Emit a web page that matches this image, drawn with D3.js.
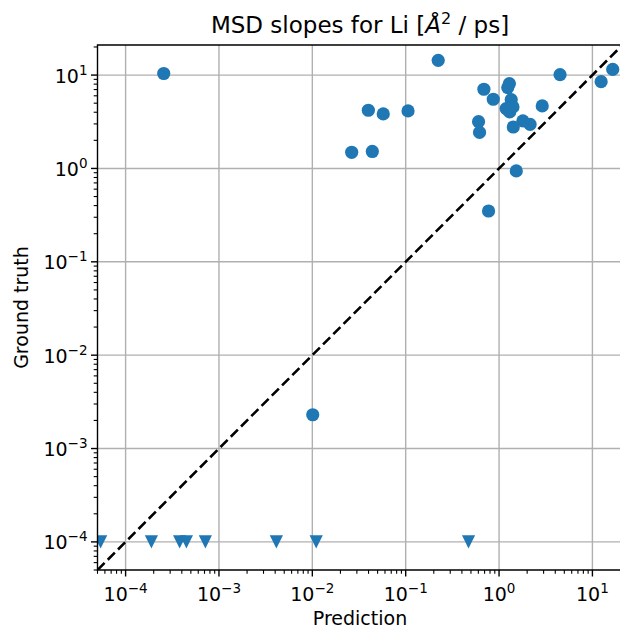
<!DOCTYPE html>
<html>
<head>
<meta charset="utf-8">
<script src="https://d3js.org/d3.v7.min.js"></script>
<style>
  body { margin: 0; background: #fff; }
  svg text { font-family: "DejaVu Sans", sans-serif; fill: #000; }
</style>
</head>
<body>
<svg id="chart" width="620" height="630"></svg>
<script>
// points where the ground truth slope is known
var predicted = [2.56e-4, 0.223, 4.5, 16.5, 12.4, 0.688, 1.29, 1.24, 0.867, 1.35,
                 1.19, 1.41, 1.30, 2.9, 0.0398, 0.0575, 0.106, 0.603, 0.618, 1.80,
                 2.15, 1.42, 0.0264, 0.0439, 1.53, 0.772, 0.0101];
var truth = [10.4, 14.4, 10.1, 11.5, 8.5, 7.05, 8.11, 7.35, 5.51, 5.47,
             4.38, 4.56, 4.03, 4.67, 4.2, 3.84, 4.13, 3.17, 2.43, 3.23,
             2.96, 2.78, 1.49, 1.52, 0.94, 0.35, 0.0023];

// points whose ground truth is below the floor, drawn as triangles at 1e-4
var predictedLow = [5.4e-5, 1.89e-4, 3.79e-4, 4.48e-4, 7.15e-4, 4.12e-3, 0.0110, 0.471];
var truthLow = [1e-4, 1e-4, 1e-4, 1e-4, 1e-4, 1e-4, 1e-4, 1e-4];

var tickExponents = [-4, -3, -2, -1, 0, 1];
var domainMin = 5e-5, domainMax = 21;

var blue = "#1f77b4";
var svg = d3.select("#chart");
var plotLeft = 97.5, plotRight = 622.5, plotTop = 45, plotBottom = 570;
var tickFont = "19px";

var x = d3.scaleLog().domain([domainMin, domainMax]).range([plotLeft, plotRight]);
var y = d3.scaleLog().domain([domainMin, domainMax]).range([plotBottom, plotTop]);

svg.append("defs").append("clipPath").attr("id", "clip")
  .append("rect").attr("x", plotLeft).attr("y", plotTop)
  .attr("width", plotRight - plotLeft).attr("height", plotBottom - plotTop);

// grid
var majors = tickExponents.map(function(e) { return Math.pow(10, e); });
var grid = svg.append("g");
majors.forEach(function(v) {
  grid.append("line").attr("x1", x(v)).attr("x2", x(v)).attr("y1", plotTop).attr("y2", plotBottom)
    .attr("stroke", "#b0b0b0").attr("stroke-width", 1.4);
  grid.append("line").attr("y1", y(v)).attr("y2", y(v)).attr("x1", plotLeft).attr("x2", plotRight)
    .attr("stroke", "#b0b0b0").attr("stroke-width", 1.4);
});

// minor ticks
var minors = [];
for (var e = -5; e <= 1; e++) {
  for (var m = 2; m <= 9; m++) {
    var v = m * Math.pow(10, e);
    if (v >= domainMin && v <= domainMax) minors.push(v);
  }
}

function superLabel(sel, e) {
  sel.append("tspan").text("10");
  sel.append("tspan").attr("dy", -8).attr("font-size", "13.5px").text(e < 0 ? "\u2212" + (-e) : "" + e);
}

var axes = svg.append("g");
minors.forEach(function(v) {
  axes.append("line").attr("x1", x(v)).attr("x2", x(v)).attr("y1", plotBottom).attr("y2", plotBottom + 3.8)
    .attr("stroke", "#000").attr("stroke-width", 1.1);
  axes.append("line").attr("y1", y(v)).attr("y2", y(v)).attr("x1", plotLeft).attr("x2", plotLeft - 3.8)
    .attr("stroke", "#000").attr("stroke-width", 1.1);
});
tickExponents.forEach(function(e) {
  var v = Math.pow(10, e);
  axes.append("line").attr("x1", x(v)).attr("x2", x(v)).attr("y1", plotBottom).attr("y2", plotBottom + 6.5)
    .attr("stroke", "#000").attr("stroke-width", 1.4);
  axes.append("line").attr("y1", y(v)).attr("y2", y(v)).attr("x1", plotLeft).attr("x2", plotLeft - 6.5)
    .attr("stroke", "#000").attr("stroke-width", 1.4);
  var tx = axes.append("text").attr("x", x(v)).attr("y", plotBottom + 31)
    .attr("text-anchor", "middle").attr("font-size", tickFont);
  superLabel(tx, e);
  var ty = axes.append("text").attr("x", plotLeft - 10).attr("y", y(v) + 7.5)
    .attr("text-anchor", "end").attr("font-size", tickFont);
  superLabel(ty, e);
});

// diagonal y = x
svg.append("line").attr("clip-path", "url(#clip)")
  .attr("x1", x(domainMin)).attr("y1", y(domainMin))
  .attr("x2", x(domainMax)).attr("y2", y(domainMax))
  .attr("stroke", "#000").attr("stroke-width", 2.6).attr("stroke-dasharray", "10,4.5");

var marks = svg.append("g").attr("clip-path", "url(#clip)");
marks.selectAll("circle").data(predicted).enter().append("circle")
  .attr("cx", function(d) { return x(d); })
  .attr("cy", function(d, i) { return y(truth[i]); })
  .attr("r", 6.6).attr("fill", blue);

var tri = 6.6;
marks.selectAll("path").data(predictedLow).enter().append("path")
  .attr("transform", function(d, i) { return "translate(" + x(d) + "," + y(truthLow[i]) + ")"; })
  .attr("d", "M" + (-tri) + "," + (-tri) + "L" + tri + "," + (-tri) + "L0," + tri + "Z")
  .attr("fill", blue);

// spines (right one sits off the page)
svg.append("path").attr("d", "M" + plotRight + "," + plotTop + "H" + plotLeft + "V" + plotBottom + "H" + plotRight)
  .attr("fill", "none").attr("stroke", "#000").attr("stroke-width", 1.4);

// labels
var title = svg.append("text").attr("x", (plotLeft + plotRight) / 2).attr("y", 33)
  .attr("text-anchor", "middle").attr("font-size", "23px");
title.append("tspan").text("MSD slopes for Li [");
title.append("tspan").attr("font-style", "italic").text("\u00c5");
title.append("tspan").attr("dy", -9).attr("font-size", "16px").text("2");
title.append("tspan").attr("dy", 9).text(" / ps]");

svg.append("text").attr("x", (plotLeft + plotRight) / 2).attr("y", 625)
  .attr("text-anchor", "middle").attr("font-size", tickFont).text("Prediction");

svg.append("text").attr("transform", "translate(28," + ((plotTop + plotBottom) / 2) + ") rotate(-90)")
  .attr("text-anchor", "middle").attr("font-size", tickFont).text("Ground truth");
</script>
</body>
</html>
